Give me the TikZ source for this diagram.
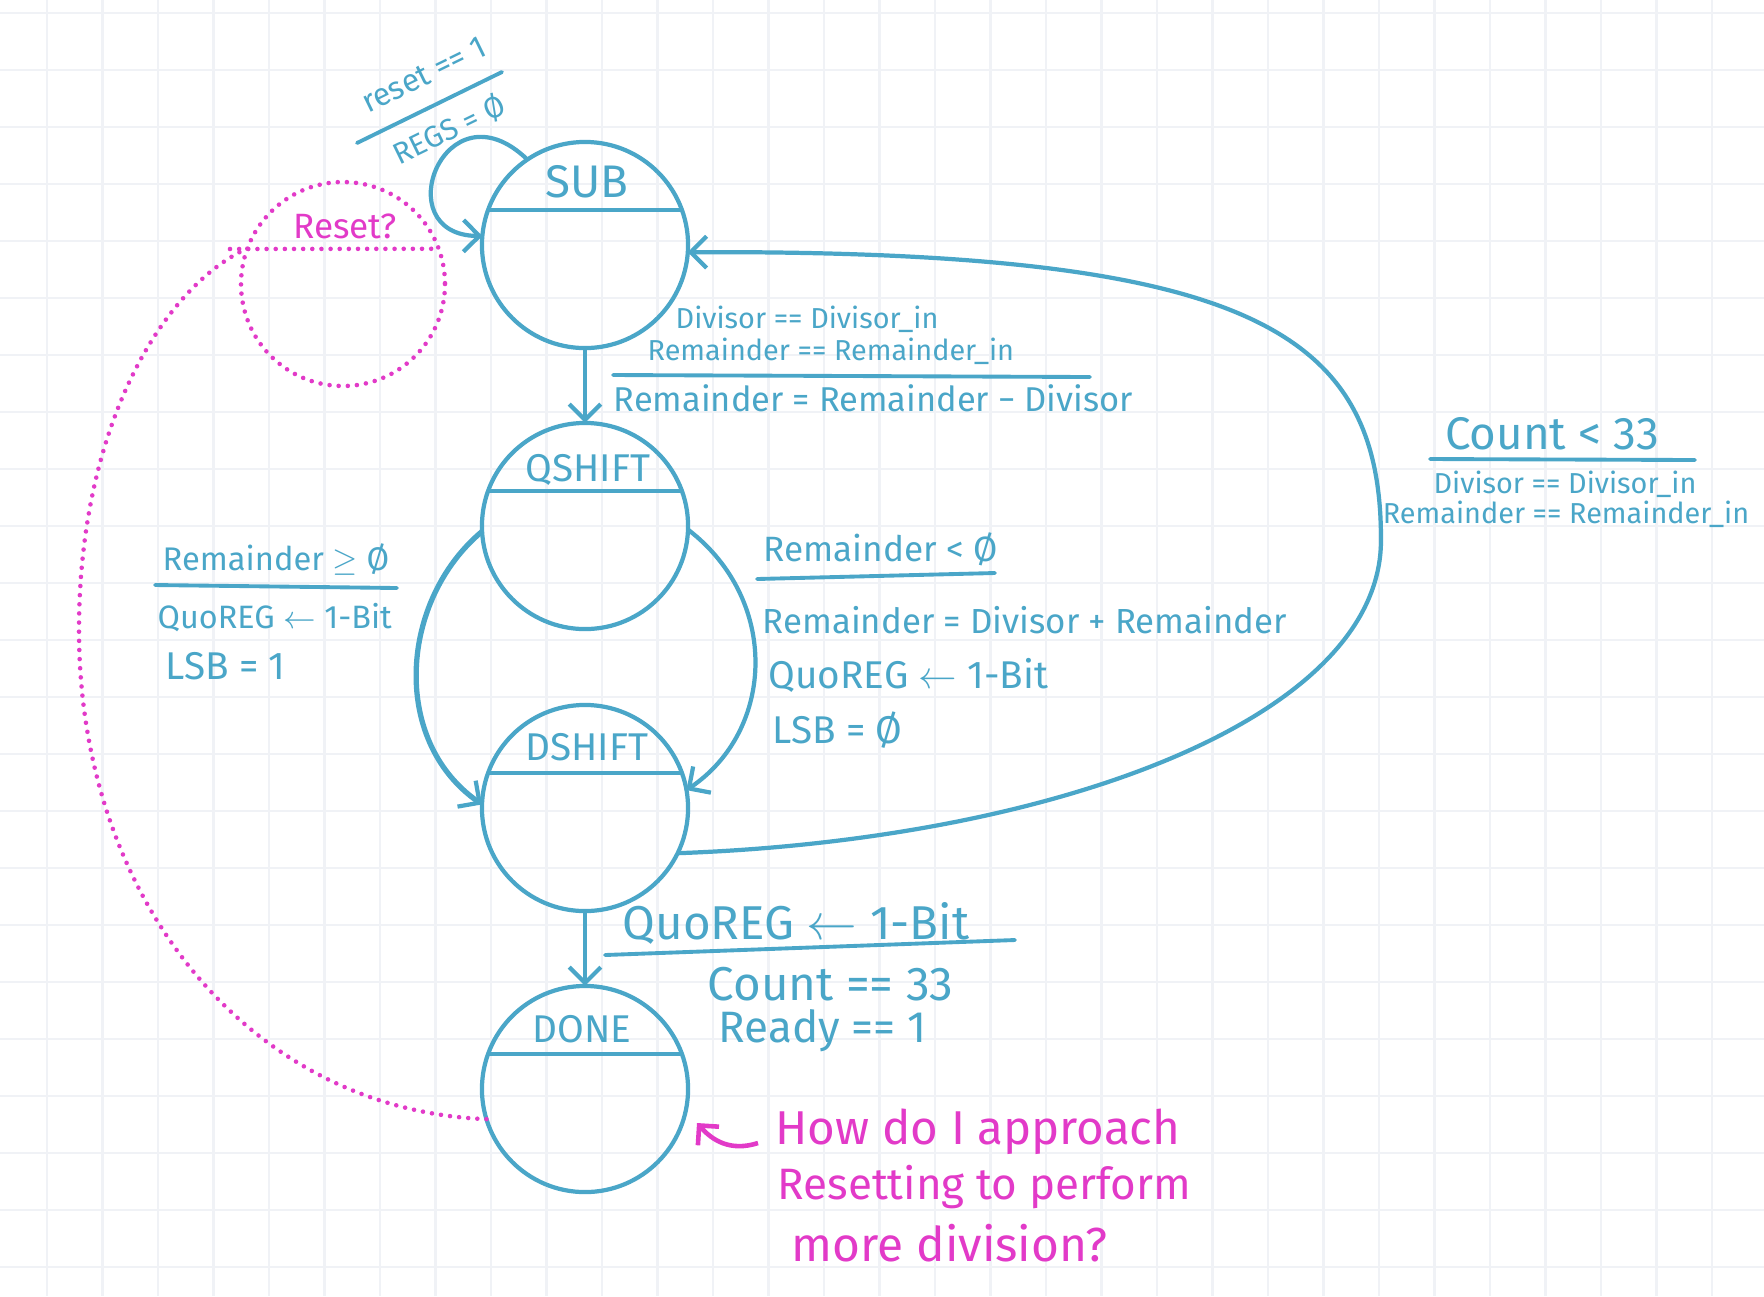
\documentclass[tikz,border=0pt]{standalone}
\usepackage{fontspec}
\setmainfont{Fira Sans}
\usetikzlibrary{arrows.meta}

\definecolor{penblue}{RGB}{74,166,200}
\definecolor{penpink}{RGB}{226,58,200}
\definecolor{gridgray}{RGB}{240,242,246}

\newcommand{\fs}[1]{\fontsize{#1}{#1}\selectfont}

\begin{document}
\begin{tikzpicture}[x=0.01cm, y=-0.01cm]

  \tikzstyle{state}    = [circle, draw=penblue, line width=1.2pt, minimum size=2.06cm, inner sep=0pt, outer sep=0pt]
  \tikzstyle{stname}   = [text=penblue, font=\fs{11}, inner sep=0pt]
  \tikzstyle{cond}     = [text=penblue, font=\fs{9.3}, inner sep=0pt, anchor=west]
  \tikzstyle{small}    = [text=penblue, font=\fs{8.2}, inner sep=0pt, anchor=west]
  \tikzstyle{big}      = [text=penblue, font=\fs{12.5}, inner sep=0pt, anchor=west]
  \tikzstyle{pinktext} = [text=penpink, font=\fs{12.5}, inner sep=0pt, anchor=west]
  \tikzstyle{bar}      = [draw=penblue, line width=1.1pt, line cap=round]
  \tikzstyle{gridline} = [draw=gridgray, line width=0.7pt]
  \tikzstyle{pinkdots} = [draw=penpink, line width=1.3pt, line cap=round, dash pattern=on 0pt off 2.6pt]

  \tikzstyle{arrow} = [draw=penblue, line width=1.2pt, -{Straight Barb[length=4.5pt,width=9pt,line width=1.2pt]}]

  % paper
  \useasboundingbox (0,0) rectangle (1764,1296);
  \fill[white] (0,0) rectangle (1764,1296);
  \foreach \gx in {0,...,31}
    \draw[gridline] ({47+55.5*\gx},0) -- ({47+55.5*\gx},1296);
  \foreach \gy in {0,...,22}
    \draw[gridline] (0,{13+57*\gy}) -- (1764,{13+57*\gy});

  % states
  \node (sub)    [state] at (585,245)  {};
  \node (qshift) [state] at (585,526)  {};
  \node (dshift) [state] at (585,808)  {};
  \node (done)   [state] at (585,1089) {};
  \foreach \s in {sub,qshift,dshift,done}
    \draw[penblue, line width=1.2pt] (\s.160) -- (\s.20);

  \node (subname)    [stname, font=\fs{13}] at (587,182)  {SUB};
  \node (qshiftname) [stname] at (588,470)  {QSHIFT};
  \node (dshiftname) [stname] at (587,747)  {DSHIFT};
  \node (donename)   [stname] at (582,1029) {DONE};

  % reset loop on SUB
  \draw [arrow] (sub.124) .. controls (445,80) and (385,235) .. (sub.175);
  \coordinate (resetbarA) at (357,143);
  \coordinate (resetbarB) at (502,72);
  \draw [bar] (resetbarA) -- (resetbarB);
  \node (resetcond) [text=penblue, font=\fs{9}, rotate=26, inner sep=0pt] at (424,75)  {reset == 1};
  \node (resetact)  [text=penblue, font=\fs{8.5}, rotate=26, inner sep=0pt] at (449,130) {REGS = Ø};

  % SUB -> QSHIFT
  \draw [arrow] (sub) -- (qshift);
  \node (subdiv) [small] at (675,319) {Divisor == Divisor\_in};
  \node (subrem) [small] at (647,351) {Remainder == Remainder\_in};
  \draw [bar] (613,375) -- (1090,377);
  \node (subact) [cond, font=\fs{9.8}] at (613,398) {Remainder = Remainder − Divisor};

  % QSHIFT -> DSHIFT, remainder >= 0
  \draw [arrow, line width=1.5pt] (qshift.183) .. controls (400,600) and (390,740) .. (dshift.178);
  \node (gecond) [cond] at (162,559) {Remainder $\geq$ Ø};
  \draw [bar] (155,585) -- (397,588);
  \node (geact1) [cond, font=\fs{9.2}] at (157,618) {QuoREG $\leftarrow$ 1-Bit};
  \node (geact2) [cond, font=\fs{11}] at (165,666) {LSB = 1};

  % QSHIFT -> DSHIFT, remainder < 0
  \draw [arrow] (qshift.-2) .. controls (780,600) and (775,730) .. (dshift.10);
  \node (ltcond) [cond, font=\fs{10}] at (763,549) {Remainder < Ø};
  \draw [bar] (757,579) -- (995,573);
  \node (ltact1) [cond, font=\fs{9.9}] at (762,620) {Remainder = Divisor + Remainder};
  \node (ltact2) [cond, font=\fs{11}] at (768,675) {QuoREG $\leftarrow$ 1-Bit};
  \node (ltact3) [cond, font=\fs{11}] at (772,730) {LSB = Ø};

  % DSHIFT -> SUB
  \coordinate (loopright) at (1381,540);
  \draw [arrow] (dshift.-26) .. controls (1050,840) and (1381,720) .. (loopright)
                .. controls (1381,330) and (1250,250) .. (sub.-4);
  \node (cntcond) [big, anchor=center, font=\fs{13}] at (1552,434) {Count < 33};
  \draw [bar] (1430,459) -- (1695,460);
  \node (cntdiv) [small, anchor=center] at (1565,484) {Divisor == Divisor\_in};
  \node (cntrem) [small, anchor=center] at (1566,514) {Remainder == Remainder\_in};

  % DSHIFT -> DONE
  \draw [arrow] (dshift) -- (done);
  \node (doneact)  [big, font=\fs{13.5}] at (622,923)  {QuoREG $\leftarrow$ 1-Bit};
  \draw [bar] (605,955) -- (1015,940);
  \node (donecnt)  [big, font=\fs{13.5}] at (707,984)  {Count == 33};
  \node (doneready)[big] at (718,1031) {Ready == 1};

  % reset question
  \node (resetq) [circle, minimum size=2.06cm, inner sep=0pt, outer sep=0pt] at (343,284) {};
  \draw [pinkdots] (resetq) circle[radius=102];
  \draw [pinkdots] (230,249) -- (resetq.20);
  \node (resetqtext) [text=penpink, font=\fs{10}] at (345,226) {Reset?};
  \coordinate (resetleft) at (79,630);
  \draw [pinkdots] (done.197) .. controls (250,1110) and (79,900) .. (resetleft)
                   .. controls (79,430) and (160,290) .. (resetq.160);

  \coordinate (notetail) at (758,1143);
  \coordinate (notetip)  at (697,1123);
  \draw [draw=penpink, line width=1.3pt, -{Straight Barb[length=4pt,width=8pt,line width=1.3pt]}]
        (notetail) .. controls (730,1152) and (712,1140) .. (notetip);
  \node (note1) [pinktext, font=\fs{13.5}] at (775,1132) {How do I approach};
  \node (note2) [pinktext] at (777,1187) {Resetting to perform};
  \node (note3) [pinktext, font=\fs{13.6}] at (791,1243) {more division?};

\end{tikzpicture}
\end{document}
